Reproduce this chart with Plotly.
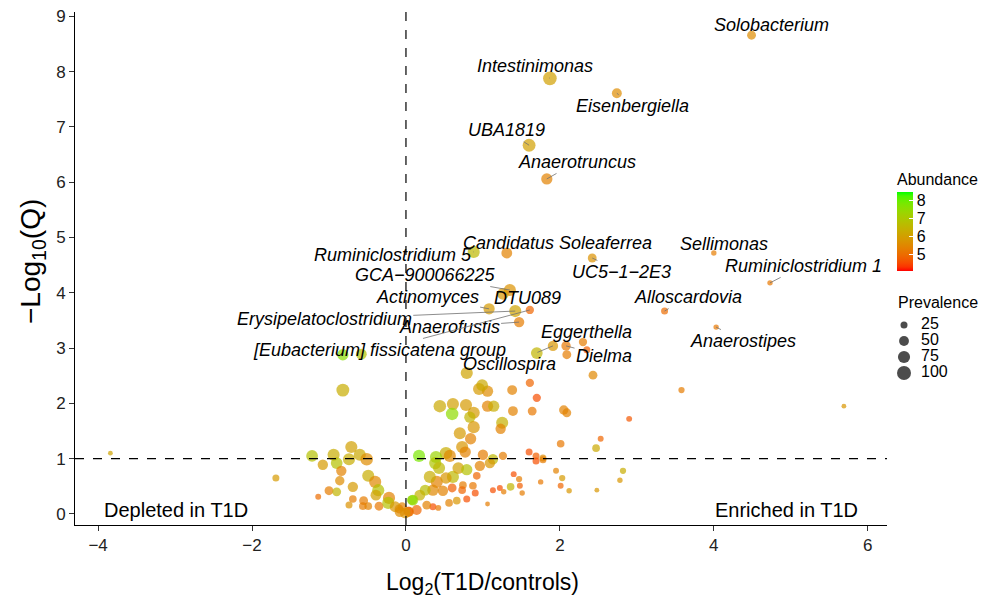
import numpy as np
import plotly.graph_objects as go

# ---------------- data ----------------
labeled_taxa = ["Solobacterium", "Intestinimonas", "Eisenbergiella", "UBA1819", "Anaerotruncus",
                "Ruminiclostridium 5", "Candidatus Soleaferrea", "Sellimonas", "UC5−1−2E3",
                "Ruminiclostridium 1", "GCA−900066225", "DTU089", "Alloscardovia", "Actinomyces",
                "Erysipelatoclostridium", "Anaerofustis", "[Eubacterium] fissicatena group",
                "Oscillospira", "Eggerthella", "Dielma", "Anaerostipes"]
labeled_log2fc = [4.49, 1.87, 2.74, 1.60, 1.83, 0.88, 1.31, 4.00, 2.42, 4.73, 1.35, 1.26, 3.36, 1.08,
                  1.42, 1.47, 1.61, 1.91, 2.30, 2.08, 4.03]
labeled_neglogq = [8.66, 7.88, 7.61, 6.67, 6.06, 4.74, 4.72, 4.72, 4.63, 4.18, 4.05, 3.98, 3.67, 3.71,
                   3.67, 3.47, 3.69, 3.04, 3.11, 3.04, 3.38]
labeled_abund = [5.6, 6.0, 5.6, 6.0, 5.4, 6.6, 5.4, 5.3, 5.7, 5.2, 5.7, 5.8, 5.0, 5.9, 6.1, 5.3, 4.9,
                 5.8, 5.3, 5.2, 5.2]
labeled_prev = [40, 95, 50, 85, 65, 75, 60, 15, 40, 15, 75, 70, 25, 65, 75, 55, 35, 55, 35, 45, 15]

other_log2fc = [2.43, 3.58, 5.69, 2.90, 2.53, 2.47, 2.01, 2.05, 2.09, 1.61, 1.70, 1.64, 1.39, 1.38,
                1.06, 0.95, 0.99, 0.79, 0.44, 0.61, 0.78, 0.60, 0.88, 0.83, 1.06, 1.14, 0.88, 0.70,
                0.84, 1.25, 1.23, 0.73, 0.52, 0.57, 0.77, 1.00, 1.13, 1.26, 1.60, 1.69, 1.69, 1.78,
                1.78, 1.75, 1.95, 2.03, 2.01, 2.12, 2.48, 2.78, 2.82, 1.40, 1.47, 1.36, 1.48, 1.51,
                1.22, 1.13, 1.27, 1.06, 0.92, 0.87, 0.90, 0.79, 0.74, 0.73, 0.60, 0.66, 0.56, 0.39,
                0.38, 0.43, 0.61, 0.68, 0.79, 0.96, 1.09, 0.40, 0.31, 0.52, 0.48, 0.35, 0.25, 0.18,
                0.09, 0.35, 0.42, 0.27, 0.14, 0.04, -0.05, 0.17, 1.70, 2.09, 2.35,
                -3.84, -1.69, -0.82, -0.82, -0.58, -1.22, -1.08, -0.94, -0.71, -0.74, -0.60, -0.51,
                -0.90, -0.84, -0.86, -0.49, -0.40, -0.36, -0.69, -1.00, -0.90, -1.14, -0.69, -0.74,
                -0.55, -0.56, -0.49, -0.35, -0.22, -0.23, -0.09, 0.03, 0.08, -0.14, -0.01, -0.08,
                -0.39]
other_neglogq = [2.51, 2.24, 1.95, 1.72, 1.36, 1.19, 1.27, 1.88, 1.83, 2.37, 2.10, 1.86, 1.86, 2.24,
                 2.22, 2.26, 2.33, 2.55, 1.95, 1.99, 1.97, 1.81, 1.83, 1.75, 1.95, 1.95, 1.57, 1.46,
                 1.36, 1.65, 1.54, 1.21, 1.10, 1.05, 1.12, 1.07, 0.99, 1.05, 1.12, 1.05, 0.96, 1.01,
                 0.98, 0.58, 0.78, 0.65, 0.51, 0.42, 0.43, 0.61, 0.78, 0.72, 0.63, 0.49, 0.51, 0.38,
                 0.47, 0.43, 0.40, 0.18, 0.69, 0.51, 0.38, 0.27, 0.52, 0.43, 0.47, 0.24, 0.20, 1.03,
                 0.92, 0.83, 0.67, 0.83, 0.80, 0.87, 0.92, 0.58, 0.67, 0.65, 0.42, 0.43, 0.43, 0.34,
                 0.25, 0.13, 0.11, 0.16, 0.07, 0.04, 0.13, 1.05, 2.91, 2.88, 2.97,
                 1.10, 0.65, 2.24, 2.88, 2.89, 1.05, 0.89, 1.07, 1.21, 0.99, 1.07, 0.99,
                 0.92, 0.78, 0.60, 0.69, 0.58, 0.43, 0.49, 0.42, 0.40, 0.31, 0.27, 0.16,
                 0.24, 0.14, 0.14, 0.14, 0.29, 0.20, 0.09, 0.04, 0.25, 0.13, 0.02, 0.04,
                 0.34]
other_abund = [5.5, 5.3, 5.8, 4.7, 4.9, 6.2, 5.2, 5.4, 5.4, 4.9, 4.6, 5.2, 5.4, 5.4,
               5.6, 5.9, 6.2, 6.1, 6.2, 6.0, 5.9, 7.5, 5.9, 6.5, 5.4, 6.3, 5.8, 5.9,
               5.4, 6.4, 5.4, 5.8, 6.3, 5.5, 5.4, 5.3, 6.6, 5.3, 4.6, 4.8, 4.6, 5.6,
               5.3, 5.2, 5.4, 5.9, 4.9, 5.8, 5.8, 5.8, 6.3, 4.6, 5.3, 6.5, 4.8, 5.3,
               4.6, 4.6, 5.3, 5.3, 4.9, 5.2, 4.6, 4.6, 5.3, 4.9, 4.8, 5.8, 5.4, 7.3,
               6.9, 6.6, 6.6, 6.0, 6.8, 5.4, 5.8, 5.4, 6.3, 5.8, 5.4, 5.5, 6.7, 6.4,
               7.3, 4.6, 5.2, 5.4, 4.9, 5.3, 5.4, 7.8, 6.5, 5.3, 4.8,
               6.1, 5.9, 6.3, 7.6, 6.8, 6.8, 5.9, 6.3, 6.0, 6.3, 6.2, 5.6,
               6.8, 5.4, 5.6, 6.3, 5.5, 6.8, 5.9, 5.3, 6.5, 5.0, 5.3, 5.7,
               5.3, 5.3, 5.4, 5.2, 5.4, 6.8, 5.3, 4.9, 7.5, 5.8, 5.8, 5.6,
               6.0]
other_prev = [40, 20, 12, 18, 18, 30, 30, 45, 40, 35, 35, 40, 50, 50,
              65, 75, 70, 75, 80, 75, 75, 80, 75, 65, 65, 65, 75, 75,
              65, 75, 55, 75, 80, 75, 65, 55, 55, 35, 25, 25, 25, 25,
              25, 15, 18, 20, 18, 15, 12, 15, 20, 18, 20, 30, 18, 15,
              18, 18, 15, 12, 30, 30, 25, 25, 30, 30, 40, 30, 30, 75,
              75, 75, 75, 70, 65, 55, 55, 75, 75, 65, 55, 65, 60, 60,
              60, 25, 18, 40, 50, 50, 40, 75, 70, 40, 25,
              12, 25, 85, 65, 60, 70, 55, 75, 75, 75, 75, 80,
              70, 55, 45, 75, 75, 75, 55, 40, 40, 18, 30, 25,
              40, 30, 30, 40, 75, 75, 40, 50, 50, 60, 60, 55,
              60]

legend_prev = [25, 50, 75, 100]
x_ticks = [-4, -2, 0, 2, 4, 6]
y_ticks = list(range(0, 10))

# ---------------- styling helpers ----------------
def _srgb_to_lin(c):
    c = c / 255.0
    return np.where(c <= 0.04045, c / 12.92, ((c + 0.055) / 1.055) ** 2.4)

def _lin_to_srgb(c):
    c = np.clip(c, 0, 1)
    return np.where(c <= 0.0031308, 12.92 * c, 1.055 * c ** (1 / 2.4) - 0.055) * 255

M = np.array([[0.4124, 0.3576, 0.1805], [0.2126, 0.7152, 0.0722], [0.0193, 0.1192, 0.9505]])
WHITE = np.array([0.95047, 1.0, 1.08883])

def _f(t):
    d = 6 / 29
    return np.where(t > d ** 3, np.cbrt(t), t / (3 * d * d) + 4 / 29)

def _finv(t):
    d = 6 / 29
    return np.where(t > d, t ** 3, 3 * d * d * (t - 4 / 29))

def rgb_to_lab(rgb):
    xyz = M @ _srgb_to_lin(np.array(rgb, float)) / WHITE
    fx, fy, fz = _f(xyz)
    return np.array([116 * fy - 16, 500 * (fx - fy), 200 * (fy - fz)])

def lab_to_rgb(lab):
    L, a, b = lab
    fy = (L + 16) / 116
    xyz = np.array([_finv(fy + a / 500), _finv(fy), _finv(fy - b / 200)]) * WHITE
    rgb = _lin_to_srgb(np.linalg.inv(M) @ xyz)
    return "rgb(%d,%d,%d)" % tuple(np.clip(np.round(rgb), 0, 255))

lab_lo = rgb_to_lab([255, 0, 0])
lab_hi = rgb_to_lab([0, 255, 0])
colorscale = [[t, lab_to_rgb(lab_lo + t * (lab_hi - lab_lo))] for t in np.linspace(0, 1, 21)]

def px_size(p):
    return 1.4 * np.sqrt(np.array(p, float))

all_x = other_log2fc + labeled_log2fc
all_y = other_neglogq + labeled_neglogq
all_ab = other_abund + labeled_abund
all_pr = other_prev + labeled_prev

FONT = "Liberation Sans, Arial, sans-serif"

# layout geometry: the page body has an 8px margin, so the figure is offset by 8px
OFF = 8
W, H = 987 - OFF, 598 - OFF
ML, MT, MB = 75 - OFF, 12 - OFF, H - (525 - OFF)
PW = W - ML                  # paper width (right margin 0)
PH = H - MT - MB             # paper height
def pxx(page_px):
    return (page_px - OFF - ML) / PW
def pxy(page_py):
    return (H - MB - (page_py - OFF)) / PH

fig = go.Figure()

fig.add_trace(go.Scatter(
    x=all_x, y=all_y, mode="markers", showlegend=False,
    marker=dict(size=px_size(all_pr), sizemode="diameter", color=all_ab,
                colorscale=colorscale, cmin=4.1, cmax=8.45, line=dict(width=0),
                colorbar=dict(
                    title=dict(text="Abundance", side="top", font=dict(size=16, family=FONT, color="black")),
                    tickvals=[5, 6, 7, 8], ticks="inside", tickcolor="white", ticklen=4,
                    tickfont=dict(size=16, family=FONT, color="black"),
                    thickness=16, len=101, lenmode="pixels", outlinewidth=0,
                    x=pxx(897), xanchor="left", xpad=0, y=pxy(170), yanchor="top", ypad=0)),
    hoverinfo="skip"))

# size key (Prevalence) drawn on a small auxiliary axis
fig.add_trace(go.Scatter(
    x=[7] * len(legend_prev), y=list(range(len(legend_prev))), mode="markers",
    marker=dict(size=px_size(legend_prev), color="black", line=dict(width=0)),
    xaxis="x2", yaxis="y2", showlegend=False, hoverinfo="skip"))
fig.add_trace(go.Scatter(
    x=[24] * len(legend_prev), y=list(range(len(legend_prev))), mode="text",
    text=[str(p) for p in legend_prev], textposition="middle right",
    textfont=dict(size=16, family=FONT, color="black"),
    xaxis="x2", yaxis="y2", showlegend=False, hoverinfo="skip"))
fig.add_annotation(x=pxx(896), xref="paper", y=pxy(302), yref="paper", text="Prevalence",
                   showarrow=False, xanchor="left", yanchor="middle",
                   font=dict(size=16, family=FONT, color="black"))

# axis titles
fig.add_annotation(x=pxx(482), xref="paper", y=pxy(583), yref="paper",
                   text="Log<sub>2</sub>(T1D/controls)", showarrow=False,
                   xanchor="center", yanchor="middle", font=dict(size=23, family=FONT, color="black"))
fig.add_annotation(x=pxx(32), xref="paper", y=pxy(262), yref="paper",
                   text="−Log<sub>10</sub>(Q)", showarrow=False, textangle=-90,
                   xanchor="center", yanchor="middle", font=dict(size=28, family=FONT, color="black"))

# threshold lines
fig.add_vline(x=0, line=dict(color="black", width=1.2, dash="dash"))
fig.add_hline(y=1, line=dict(color="black", width=1.2, dash="dash"))

# labels (offsets in pixels: text position relative to point)
offsets = {
    "Solobacterium": (20, -10), "Intestinimonas": (-15, -12), "Eisenbergiella": (16, 13),
    "UBA1819": (-23, -15), "Anaerotruncus": (30, -17), "Ruminiclostridium 5": (-81, 3),
    "Candidatus Soleaferrea": (51, -10), "Sellimonas": (10, -9), "UC5−1−2E3": (29, 14),
    "Ruminiclostridium 1": (33, -17), "GCA−900066225": (-84, -15), "DTU089": (25, 4),
    "Alloscardovia": (23, -14), "Actinomyces": (-62, -12), "Erysipelatoclostridium": (-191, 8),
    "Anaerofustis": (-70, 5), "[Eubacterium] fissicatena group": (-150, 40),
    "Oscillospira": (-43, 18), "Eggerthella": (4, -10), "Dielma": (38, 10), "Anaerostipes": (27, 14),
}
for name, xv, yv in zip(labeled_taxa, labeled_log2fc, labeled_neglogq):
    ax, ay = offsets[name]
    fig.add_annotation(x=xv, y=yv, text="<i>%s</i>" % name, showarrow=True, ax=ax, ay=ay,
                       arrowhead=0, arrowwidth=0.8, arrowcolor="#707070", standoff=0, startstandoff=0,
                       font=dict(size=18, family=FONT, color="black"))

fig.add_annotation(x=0.124, xref="x domain", y=0.029, yref="y domain", text="Depleted in T1D",
                   showarrow=False, xanchor="center", yanchor="middle",
                   font=dict(size=20, family=FONT, color="black"))
fig.add_annotation(x=0.876, xref="x domain", y=0.029, yref="y domain", text="Enriched in T1D",
                   showarrow=False, xanchor="center", yanchor="middle",
                   font=dict(size=20, family=FONT, color="black"))

fig.update_layout(
    width=W, height=H, autosize=False,
    margin=dict(l=ML, r=0, t=MT, b=MB, autoexpand=False),
    paper_bgcolor="white", plot_bgcolor="white",
    font=dict(family=FONT, color="black"),
    showlegend=False,
    xaxis=dict(domain=[0, pxx(887)], range=[-4.30, 6.25], tickvals=x_ticks, showgrid=False,
               zeroline=False, showline=True, linecolor="black", linewidth=1, ticks="outside",
               ticklen=5, tickcolor="#333333", tickfont=dict(size=17, color="#222222"),
               ticklabeloverflow="allow"),
    yaxis=dict(range=[-0.20, 9.08], tickvals=y_ticks, showgrid=False, zeroline=False,
               showline=True, linecolor="black", linewidth=1, ticks="outside", ticklen=5,
               tickcolor="#333333", tickfont=dict(size=17, color="#222222"),
               ticklabeloverflow="allow"),
    xaxis2=dict(domain=[pxx(897), 1.0], range=[0, 90], visible=False, fixedrange=True),
    yaxis2=dict(domain=[pxy(383), pxy(315)], range=[3.625, -0.625], visible=False,
                anchor="x2", fixedrange=True),
)

fig.write_html("out.html")
